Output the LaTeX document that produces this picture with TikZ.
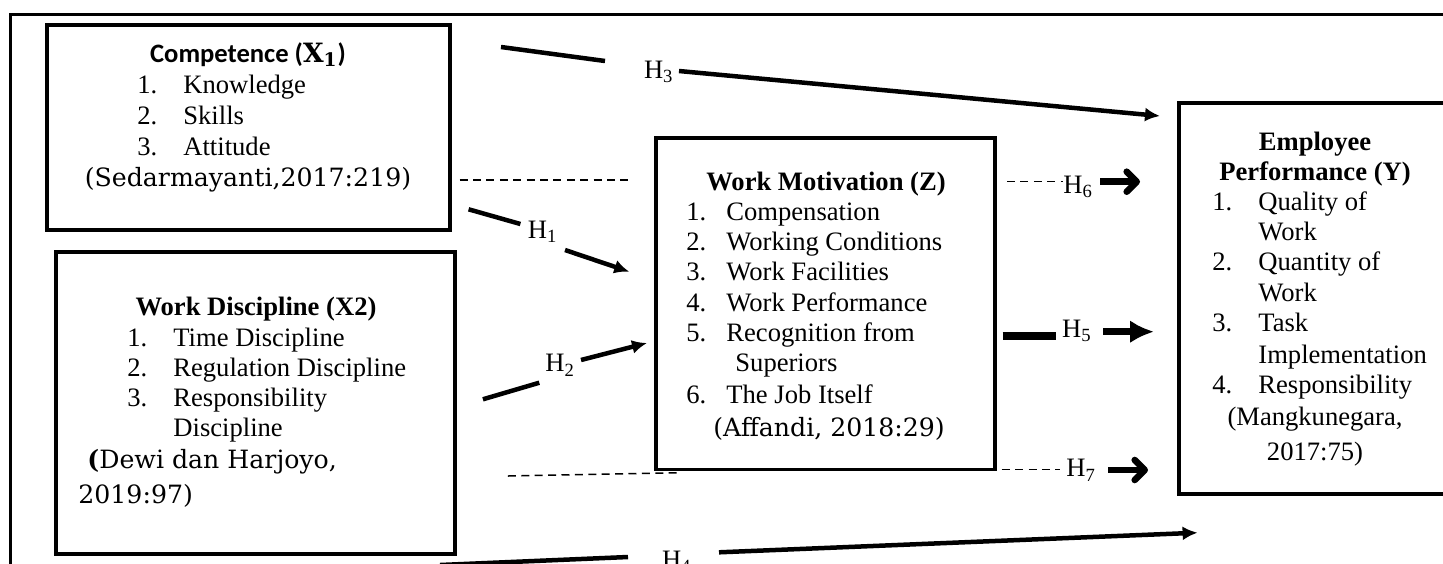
\documentclass[tikz,border=0pt]{standalone}
\usepackage{fontspec}
\setmainfont{Liberation Serif}
\newfontfamily\calfont{Carlito}
\newfontfamily\bookfont{DejaVu Serif}
\usetikzlibrary{arrows.meta}
\newcommand{\bodysize}{\fontsize{13.3}{16}\selectfont}
\newcommand{\citesize}{\fontsize{12.6}{15}\selectfont}
\newcommand{\inum}[2][23pt]{\makebox[#1][l]{#2}}

\begin{document}
\begin{tikzpicture}[x=0.5pt,y=-0.5pt,
  box/.style={draw,line width=1.75pt,inner sep=0pt},
  txt/.style={anchor=base west,inner sep=0pt,font=\bodysize},
  head/.style={anchor=base,inner sep=0pt,font=\bodysize\bfseries},
  src/.style={anchor=base west,inner sep=0pt,font=\citesize\bookfont},
  hyp/.style={anchor=base west,inner sep=0pt,font=\bodysize},
  conn/.style={line width=2.25pt},
  fat/.style={line width=3.75pt},
  dashline/.style={line width=0.75pt,dash pattern=on 4pt off 2.7pt},
  tip/.style={-{Latex[length=7.5pt,width=7pt]}},
  bigtip/.style={-{Latex[length=12pt,width=11.5pt]}},
  barb/.style={line width=3.3pt,-{Straight Barb[length=5pt,width=10pt,line join=round,line cap=round]}}]
  \clip (0,0) rectangle (1443,563);
  % outer frame, cut off at the right and bottom
  \draw[line width=1.5pt] (1500,14.3) -| (10,620);

  % Competence (X1)
  \node[box,minimum width=201.5pt,minimum height=102.5pt] (comp) at (248.5,127.5) {};
  \node[head,font=\bodysize\calfont\bfseries] (compT) at (248,62) {Competence ({\bookfont X\textsubscript{1}})};
  \node[txt] (comp1) at (137,93.3) {\inum{1.}Knowledge};
  \node[txt] (comp2) at (137,124.3) {\inum{2.}Skills};
  \node[txt] (comp3) at (137,155.7) {\inum{3.}Attitude};
  \node[src,anchor=base] (compS) at (248,186.7) {(Sedarmayanti,2017:219)};

  % Work Discipline (X2)
  \node[box,minimum width=199.5pt,minimum height=151pt] (disc) at (255.5,403) {};
  \node[head] (discT) at (256,315) {Work Discipline (X2)};
  \node[txt] (disc1) at (127,346) {\inum{1.}Time Discipline};
  \node[txt] (disc2) at (127,376.7) {\inum{2.}Regulation Discipline};
  \node[txt] (disc3) at (127,406.7) {\inum{3.}Responsibility};
  \node[txt] (disc3b) at (173,436.7) {Discipline};
  \node[src] (discS) at (87,468.3) {{\bfseries(}Dewi dan Harjoyo,};
  \node[src] (discS2) at (78,503.3) {2019:97)};

  % Work Motivation (Z)
  \node[box,minimum width=169.5pt,minimum height=165.75pt] (motiv) at (825.5,303.75) {};
  \node[head] (motivT) at (826,190) {Work Motivation (Z)};
  \node[txt] (motiv1) at (686,220) {\inum[20pt]{1.}Compensation};
  \node[txt] (motiv2) at (686,250) {\inum[20pt]{2.}Working Conditions};
  \node[txt] (motiv3) at (686,280) {\inum[20pt]{3.}Work Facilities};
  \node[txt] (motiv4) at (686,311.7) {\inum[20pt]{4.}Work Performance};
  \node[txt] (motiv5) at (686,341.7) {\inum[20pt]{5.}Recognition from};
  \node[txt] (motiv5b) at (735,371.7) {Superiors};
  \node[txt] (motiv6) at (686,403.3) {\inum[20pt]{6.}The Job Itself};
  \node[src] (motivS) at (713,436.7) {(Affandi, 2018:29)};

  % Employee Performance (Y)
  \node[box,minimum width=136pt,minimum height=195.5pt] (perf) at (1315,298.5) {};
  \node[head] (perfT) at (1315,150) {Employee};
  \node[head] (perfT2) at (1315,180) {Performance (Y)};
  \node[txt] (perf1) at (1212,210) {\inum{1.}Quality of};
  \node[txt] (perf1b) at (1258,240) {Work};
  \node[txt] (perf2) at (1212,270) {\inum{2.}Quantity of};
  \node[txt] (perf2b) at (1258,301.7) {Work};
  \node[txt] (perf3) at (1212,331.7) {\inum{3.}Task};
  \node[txt] (perf3b) at (1258,363.3) {Implementation};
  \node[txt] (perf4) at (1212,393.3) {\inum{4.}Responsibility};
  \node[txt,anchor=base] (perfS) at (1315,425) {(Mangkunegara,};
  \node[txt,anchor=base] (perfS2) at (1315,460) {2017:75)};

  % hypothesis labels
  \node[hyp] (h1) at (527.5,238) {H\textsubscript{1}};
  \node[hyp] (h2) at (545,371.7) {H\textsubscript{2}};
  \node[hyp] (h3) at (643.6,78.3) {H\textsubscript{3}};
  \node[hyp] (h4) at (661.6,568) {H\textsubscript{4}};
  \node[hyp] (h5) at (1061.7,337.3) {H\textsubscript{5}};
  \node[hyp] (h6) at (1063,193) {H\textsubscript{6}};
  \node[hyp] (h7) at (1066,476.7) {H\textsubscript{7}};

  % connector ends
  \coordinate (h1a) at (468.6,209.3); \coordinate (h1b) at (520.4,224);
  \coordinate (h1c) at (565,250);     \coordinate (h1t) at (629.3,271.7);
  \coordinate (h2a) at (482.9,399.3); \coordinate (h2b) at (539.3,382.7);
  \coordinate (h2c) at (581,360);     \coordinate (h2t) at (647,343);
  \coordinate (h3a) at (501,47);      \coordinate (h3b) at (605,61);
  \coordinate (h3c) at (679,71);      \coordinate (h3t) at (1160,116);
  \coordinate (h4a) at (440,565);     \coordinate (h4b) at (628,557);
  \coordinate (h4c) at (719,552.3);   \coordinate (h4t) at (1197.6,532.7);
  \coordinate (h5a) at (1002.7,336);  \coordinate (h5b) at (1056,336);
  \coordinate (h5c) at (1103.3,331.7); \coordinate (h5t) at (1154,331.7);
  \coordinate (h6a) at (1007,181.7);  \coordinate (h6b) at (1063,181.7);
  \coordinate (h6c) at (1100,181.7);  \coordinate (h6t) at (1140,181.7);
  \coordinate (h7a) at (1001.7,469.3); \coordinate (h7b) at (1060,469.3);
  \coordinate (h7c) at (1108,470);    \coordinate (h7t) at (1148,470);
  \coordinate (d1a) at (459.6,180);   \coordinate (d1b) at (632.9,180);
  \coordinate (d2a) at (507.9,476);   \coordinate (d2b) at (679.3,472.7);

  % solid paths
  \draw[conn] (h1a) -- (h1b);  \draw[conn,tip] (h1c) -- (h1t);
  \draw[conn] (h2a) -- (h2b);  \draw[conn,tip] (h2c) -- (h2t);
  \draw[conn] (h3a) -- (h3b);  \draw[conn,tip] (h3c) -- (h3t);
  \draw[conn] (h4a) -- (h4b);  \draw[conn,tip] (h4c) -- (h4t);
  \draw[fat] (h5a) -- (h5b);   \draw[fat,bigtip] (h5c) -- (h5t);
  % dashed paths
  \draw[dashline] (d1a) -- (d1b);
  \draw[dashline] (d2a) -- (d2b);
  \draw[dashline] (h6a) -- (h6b);  \draw[barb] (h6c) -- (h6t);
  \draw[dashline] (h7a) -- (h7b);  \draw[barb] (h7c) -- (h7t);
\end{tikzpicture}
\end{document}
